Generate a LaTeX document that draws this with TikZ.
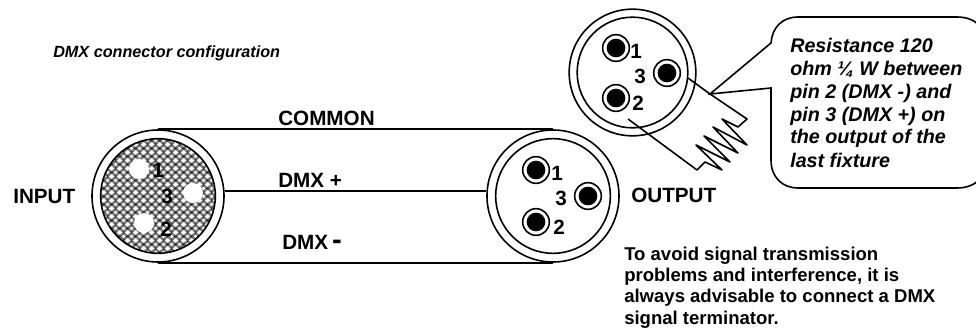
\documentclass[tikz,border=0pt]{standalone}
\usepackage{fontspec}
\setmainfont{Liberation Sans}
\usetikzlibrary{patterns}

\pgfdeclarepatterninherentlycolored{dmxmesh}{\pgfqpoint{0pt}{0pt}}{\pgfqpoint{6pt}{6pt}}{\pgfqpoint{6pt}{6pt}}{%
  \pgfsetfillcolor{black!50}
  \pgfpathrectangle{\pgfqpoint{0pt}{0pt}}{\pgfqpoint{6pt}{6pt}}\pgfusepath{fill}
  \pgfsetfillcolor{black!80}
  \pgfpathcircle{\pgfqpoint{3pt}{0pt}}{1.1pt}
  \pgfpathcircle{\pgfqpoint{3pt}{6pt}}{1.1pt}
  \pgfpathcircle{\pgfqpoint{0pt}{3pt}}{1.1pt}
  \pgfpathcircle{\pgfqpoint{6pt}{3pt}}{1.1pt}\pgfusepath{fill}
  \pgfsetfillcolor{white}
  \pgfpathcircle{\pgfqpoint{3pt}{3pt}}{1.35pt}
  \pgfpathcircle{\pgfqpoint{0pt}{0pt}}{1.35pt}
  \pgfpathcircle{\pgfqpoint{6pt}{0pt}}{1.35pt}
  \pgfpathcircle{\pgfqpoint{0pt}{6pt}}{1.35pt}
  \pgfpathcircle{\pgfqpoint{6pt}{6pt}}{1.35pt}\pgfusepath{fill}
}

\tikzset{
  shell/.style={circle,draw,line width=1.2pt,inner sep=0pt,minimum size=99pt},
  shellin/.style={circle,draw,line width=1.2pt,inner sep=0pt,minimum size=86pt},
  holewhite/.style={circle,fill=white,inner sep=0pt,minimum size=15pt},
  pinring/.style={circle,draw,line width=1.2pt,inner sep=0pt,minimum size=20pt},
  pincore/.style={circle,fill=black,inner sep=0pt,minimum size=14pt},
  wire/.style={line width=1.2pt},
  boldtext/.style={inner sep=0pt,anchor=base west,font=\bfseries\fontsize{15.5}{17}\selectfont},
  pinnum/.style={inner sep=0pt,font=\bfseries\fontsize{15.5}{17}\selectfont},
}

\begin{document}
\begin{tikzpicture}[x=0.75pt,y=0.75pt,yscale=-1,xscale=1]
\useasboundingbox (0,0) rectangle (976,328);

%Input connector
\node [shell] (input) at (158,196) {};
\node [shellin,pattern=dmxmesh] (inputcore) at (158,196) {};
\node [holewhite] (inhole1) at (139,169) {};
\node [holewhite] (inhole3) at (193,193) {};
\node [holewhite] (inhole2) at (144,223) {};

%Output connector
\node [shell] (output) at (553,196) {};
\node [shellin] (outputcore) at (553,196) {};
\node [pinring] (outring1) at (536,170) {};
\node [pincore] (outpin1) at (536,170) {};
\node [pinring] (outring3) at (588,196) {};
\node [pincore] (outpin3) at (588,196) {};
\node [pinring] (outring2) at (536,222) {};
\node [pincore] (outpin2) at (536,222) {};

%Terminated connector
\node [shell,minimum size=95pt] (term) at (632.5,72.5) {};
\node [shellin,minimum size=83pt] (termcore) at (632.5,72.5) {};
\node [pinring] (termring1) at (616,48) {};
\node [pincore] (termpin1) at (616,48) {};
\node [pinring] (termring3) at (667,73) {};
\node [pincore] (termpin3) at (667,73) {};
\node [pinring] (termring2) at (616,98) {};
\node [pincore] (termpin2) at (616,98) {};

%Cable
\draw [wire] (input.north) -- (output.north) ;
\draw [wire,line width=1.5pt] (input.4) -- (output.176) ;
\draw [wire] (input.south) -- (output.south) ;

%Resistor
\coordinate (calltip) at (710,94);
\draw [wire,line join=round] (688,78) -- (calltip) -- (747,119) -- (738,127) -- (722,119) -- (747,145) -- (713,127) -- (738,153) -- (704,136) -- (730,162) -- (696,145) -- (722,170) -- (705,162) -- (697,170) -- (628,119) ;

%Callout
\begin{scope}
\clip (0,0) rectangle (976,328);
\draw [wire] (calltip) -- (771,43) .. controls (772,28) and (782,17) .. (798,17) -- (957,17) .. controls (975,17) and (987,28) .. (987,45) -- (987,160) .. controls (987,177) and (975,188) .. (957,188) -- (798,188) .. controls (782,188) and (771,177) .. (771,160) -- (771,88) -- cycle ;
\end{scope}

% Text Node
\node [boldtext,font=\bfseries\itshape\fontsize{12.15}{14}\selectfont] (title) at (53,58) {DMX connector configuration};
% Text Node
\node [boldtext] (commonlabel) at (278,126) {COMMON};
\node [boldtext] (pluslabel) at (278,187) {DMX +};
\node [boldtext] (minuslabel) at (282,249) {DMX\hspace{3pt}\fontsize{22}{22}\selectfont -};
\node [boldtext] (inputlabel) at (13,204) {INPUT};
\node [boldtext] (outputlabel) at (631,203) {OUTPUT};
% Text Node
\node [pinnum] (inlabel1) at (158,170) {1};
\node [pinnum] (inlabel3) at (167,196) {3};
\node [pinnum] (inlabel2) at (166,229) {2};
\node [pinnum] (outlabel1) at (557,173) {1};
\node [pinnum] (outlabel3) at (561,198) {3};
\node [pinnum] (outlabel2) at (559,227) {2};
\node [pinnum] (termlabel1) at (636,51) {1};
\node [pinnum] (termlabel3) at (640,76) {3};
\node [pinnum] (termlabel2) at (638,103) {2};
% Text Node
\node [inner sep=0pt,anchor=base west,align=left,font=\bfseries\itshape\fontsize{14.8}{17.25}\selectfont] (calltext) at (790,167) {Resistance 120\\ohm ¼ W between\\pin 2 (DMX -) and\\pin 3 (DMX +) on\\the output of the\\last fixture};
% Text Node
\node [boldtext,align=left,font=\bfseries\fontsize{13.9}{16}\selectfont] (advice) at (624,324) {To avoid signal transmission\\problems and interference, it is\\always advisable to connect a DMX\\signal terminator.};
\end{tikzpicture}
\end{document}
